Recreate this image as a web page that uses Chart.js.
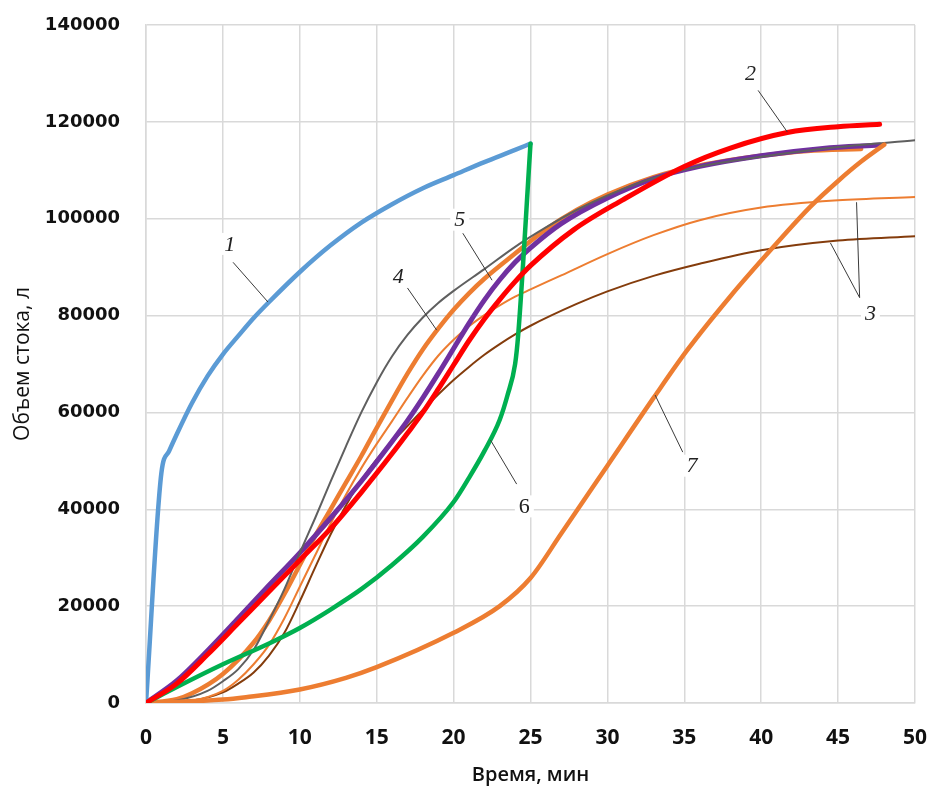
<!DOCTYPE html>
<html>
<head>
<meta charset="utf-8">
<script src="https://cdn.jsdelivr.net/npm/chart.js@4.4.0/dist/chart.umd.min.js"></script>
<style>
  html, body { margin: 0; padding: 0; background: #fff; }
  #wrap { width: 933px; height: 787px; }
</style>
</head>
<body>
<div id="wrap"><canvas id="myChart" width="933" height="787"></canvas></div>
<script>
// time, min (x) and runoff volume, l (y) for each curve
const time1 = [0, 1, 1.5, 2, 3, 4, 5, 6, 7, 8, 10, 12, 14, 16, 18, 20, 22, 24, 25];
const flow1 = [0, 47500, 52000, 55500, 62000, 67500, 72000, 75800, 79500, 82800, 89000, 94500, 99200, 103000, 106300, 109000, 111700, 114200, 115500];

const time2 = [0, 2, 4, 6, 8, 10, 12, 14, 16, 17, 18, 19, 20, 21, 22, 23, 24, 25, 27.8, 31, 35, 38, 41.7, 45, 47.7];
const flow2 = [0, 4000, 10000, 16500, 23000, 29500, 36000, 43500, 51500, 55700, 60000, 64800, 69800, 74800, 79300, 83300, 87000, 90300, 97700, 103900, 110800, 114600, 117800, 119000, 119500];

const time3a = [0, 3, 5, 6, 7, 8, 9, 10, 11, 12, 13, 14, 15, 16, 17, 18, 19, 20, 21, 22, 23, 24, 25, 27, 30, 33, 36, 40, 45, 50];
const flow3a = [0, 500, 2500, 4800, 8000, 12000, 17500, 24000, 30500, 37000, 43000, 48500, 53500, 58200, 63000, 67600, 71700, 75000, 77800, 80100, 82100, 83900, 85400, 88300, 92700, 96600, 99700, 102300, 103800, 104500];

const time3b = [0, 3, 5, 6, 7, 8, 9, 10, 11, 12, 13, 14, 15, 16, 17, 18, 19, 20, 21, 22, 23, 24, 25, 28, 30, 33, 36, 40, 45, 50];
const flow3b = [0, 500, 2200, 4000, 6300, 9800, 14500, 21000, 28000, 34800, 40800, 46000, 50300, 53900, 57200, 60500, 63700, 66700, 69400, 71900, 74100, 76100, 77900, 82400, 85000, 88200, 90700, 93500, 95500, 96400];

const time4 = [0, 2, 3, 5, 7, 8, 9, 10, 11, 12, 13, 14, 15, 16, 17, 18, 19, 20, 21, 22, 24, 26, 28, 30, 33, 36, 40, 43, 46.5];
const flow4 = [0, 800, 2000, 6000, 12500, 17000, 22500, 28500, 34500, 40000, 45500, 51000, 56800, 62500, 68000, 73000, 77300, 81200, 84600, 87600, 92800, 97800, 101800, 105000, 108600, 111000, 113000, 114000, 114400];

const time5 = [0, 2, 4, 6, 8, 10, 12, 14, 16, 17, 18, 19, 20, 21, 22, 23, 24, 25, 27, 30, 33, 36, 40, 44, 47.7];
const flow5 = [0, 4600, 10800, 17500, 24300, 31000, 38200, 45800, 54000, 58300, 63000, 68000, 73200, 78400, 83200, 87400, 91000, 94000, 99000, 104300, 108300, 110800, 113000, 114500, 115200];

const timeGray = [0, 2, 4, 5, 6, 7, 8, 9, 10, 11, 12, 13, 14, 15, 16, 17, 18, 19, 20, 22, 24, 26, 28, 30, 33, 36, 40, 45, 50];
const flowGray = [0, 500, 2500, 4500, 7000, 11000, 17000, 23500, 31000, 38200, 45700, 53000, 60000, 66200, 71600, 76000, 79600, 82600, 85100, 89600, 94200, 98200, 101800, 104800, 108400, 110800, 112800, 114800, 116200];

const time6 = [0, 2, 5, 8, 10, 12, 14, 16, 18, 20, 21, 22, 23, 23.5, 24, 24.2, 25];
const flow6 = [0, 3300, 8000, 12300, 15500, 19300, 23500, 28500, 34300, 41500, 46500, 52000, 58500, 63500, 70000, 76000, 115500];

const time7 = [0, 5, 6.5, 10, 13, 15, 20, 23, 25, 27, 30, 33, 35.2, 38, 40.8, 43.2, 45, 46.5, 48];
const flow7 = [0, 700, 1200, 2800, 5200, 7400, 14500, 20000, 25800, 35000, 49000, 63000, 72900, 84000, 94200, 102500, 107800, 111800, 115300];

const xTicks = [0, 5, 10, 15, 20, 25, 30, 35, 40, 45, 50];
const yTicks = [0, 20000, 40000, 60000, 80000, 100000, 120000, 140000];

// curve numbers with leader lines, in data units
const curveLabels = [
  { text: '1', x: 5.45, y: 94800, lines: [[5.66, 91000, 7.93, 82800]] },
  { text: '2', x: 39.3, y: 130000, lines: [[39.8, 126500, 41.7, 117900]] },
  { text: '3', x: 47.1, y: 80400, lines: [[46.4, 83700, 46.2, 103400], [46.4, 83700, 44.5, 95000]] },
  { text: '4', x: 16.4, y: 88200, lines: [[17.0, 85700, 18.9, 77000]] },
  { text: '5', x: 20.4, y: 99800, lines: [[20.6, 97000, 22.5, 87300]] },
  { text: '6', x: 24.6, y: 40600, italic: false, lines: [[24.1, 45200, 22.4, 54300]] },
  { text: '7', x: 35.5, y: 49000, lines: [[34.9, 51800, 33.1, 63600]] }
];

function pairs(xs, ys) {
  return xs.map((x, i) => ({ x: x, y: ys[i] }));
}

function line(data, color, width, order) {
  return {
    data: data,
    borderColor: color,
    backgroundColor: color,
    borderWidth: width,
    pointRadius: 0,
    cubicInterpolationMode: 'monotone',
    fill: false,
    order: order,
    borderCapStyle: 'round',
    borderJoinStyle: 'round'
  };
}

const labelPlugin = {
  id: 'curveLabels',
  afterDatasetsDraw(chart) {
    const ctx = chart.ctx;
    const xs = chart.scales.x, ys = chart.scales.y;
    ctx.save();
    ctx.strokeStyle = '#3a3a3a';
    ctx.lineWidth = 1;
    curveLabels.forEach(l => {
      l.lines.forEach(s => {
        ctx.beginPath();
        ctx.moveTo(xs.getPixelForValue(s[0]), ys.getPixelForValue(s[1]));
        ctx.lineTo(xs.getPixelForValue(s[2]), ys.getPixelForValue(s[3]));
        ctx.stroke();
      });
    });
    curveLabels.forEach(l => {
      const px = xs.getPixelForValue(l.x), py = ys.getPixelForValue(l.y);
      ctx.font = (l.italic === false ? '' : 'italic ') + '22px "Liberation Serif"';
      const w = ctx.measureText(l.text).width;
      ctx.fillStyle = '#fff';
      ctx.fillRect(px - w / 2 - 4, py - 11, w + 8, 22);
      ctx.fillStyle = '#222';
      ctx.textAlign = 'center';
      ctx.textBaseline = 'middle';
      ctx.fillText(l.text, px, py + 1);
    });
    ctx.restore();
  }
};

const ctx = document.getElementById('myChart').getContext('2d');
new Chart(ctx, {
  type: 'line',
  data: {
    datasets: [
      line(pairs(time2, flow2), '#FF0000', 5, 1),
      line(pairs(time6, flow6), '#00B050', 4.5, 2),
      line(pairs(time7, flow7), '#ED7D31', 4.5, 3),
      line(pairs(time1, flow1), '#5B9BD5', 4.5, 4),
      line(pairs(timeGray, flowGray), '#5F5F5F', 2, 5),
      line(pairs(time5, flow5), '#7030A0', 5, 6),
      line(pairs(time4, flow4), '#ED7D31', 4.5, 7),
      line(pairs(time3a, flow3a), '#ED7D31', 2, 8),
      line(pairs(time3b, flow3b), '#843C0C', 2, 9)
    ]
  },
  options: {
    responsive: false,
    animation: false,
    layout: { padding: { top: 25, right: 18, left: 0, bottom: 0 } },
    plugins: {
      legend: { display: false },
      tooltip: { enabled: false }
    },
    scales: {
      x: {
        type: 'linear',
        min: 0,
        max: 50,
        afterBuildTicks: s => { s.ticks = xTicks.map(v => ({ value: v })); },
        afterFit: s => { s.height = 84; },
        grid: { color: '#D9D9D9', lineWidth: 1.5, drawTicks: true, tickLength: 19, tickColor: 'rgba(0,0,0,0)' },
        border: { color: '#D9D9D9', width: 1.5 },
        ticks: {
          padding: 3,
          color: '#111',
          callback: v => String(v),
          font: { family: 'Open Sans', size: 21, weight: 'bold' }
        },
        title: {
          display: true,
          text: 'Время, мин',
          color: '#111',
          padding: { top: 6, bottom: 0 },
          font: { family: 'Open Sans', size: 20, weight: '600' }
        }
      },
      y: {
        type: 'linear',
        min: 0,
        max: 140000,
        afterBuildTicks: s => { s.ticks = yTicks.map(v => ({ value: v })); },
        afterFit: s => { s.width = 146; },
        grid: { color: '#D9D9D9', lineWidth: 1.5, drawTicks: true, tickLength: 23, tickColor: 'rgba(0,0,0,0)' },
        border: { color: '#D9D9D9', width: 1.5 },
        ticks: {
          padding: 3,
          color: '#111',
          callback: v => String(v),
          font: { family: 'DejaVu Sans', size: 18, weight: 'bold' }
        },
        title: {
          display: true,
          text: 'Объем стока, л',
          color: '#111',
          padding: { top: 10, bottom: 0 },
          font: { family: 'Open Sans', size: 21, weight: '400' }
        }
      }
    }
  },
  plugins: [labelPlugin]
});
</script>
</body>
</html>
